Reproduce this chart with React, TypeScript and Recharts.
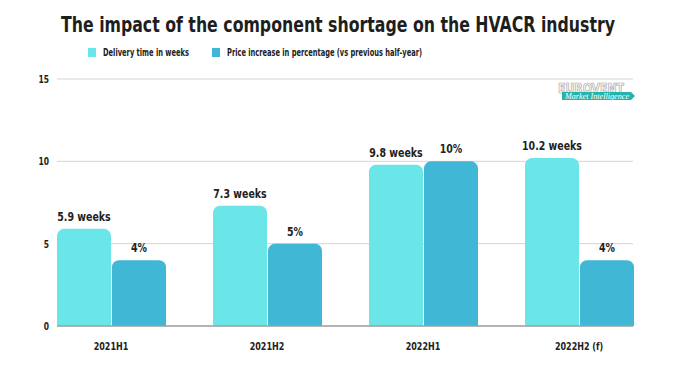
import React from "react";
import { BarChart, Bar, XAxis, YAxis, CartesianGrid, LabelList } from "recharts";

const categories = ["2021H1", "2021H2", "2022H1", "2022H2 (f)"];
const deliveryWeeks = [5.9, 7.3, 9.8, 10.2];
const priceIncrease = [4, 5, 10, 4];
const seriesNames = ["Delivery time in weeks", "Price increase in percentage (vs previous half-year)"];
const yTicks = [0, 5, 10, 15];
const title = "The impact of the component shortage on the HVACR industry";

const FONT = '"DejaVu Sans Condensed", "DejaVu Sans", sans-serif';
const LIGHT = "#6ae5e8";
const DARK = "#41b7d6";
const INK = "#222";

const data = categories.map((name, i) => ({
	name,
	weeks: deliveryWeeks[i],
	price: priceIncrease[i],
}));

// narrow text by squeezing it horizontally around its anchor
const Squeezed = ({ x, y, text, size, sx, anchor = "middle" }: any) => (
	<text
		transform={`translate(${x},${y}) scale(${sx},1)`}
		textAnchor={anchor}
		fontFamily={FONT}
		fontSize={size}
		fontWeight={700}
		fill={INK}
	>
		{text}
	</text>
);

const XTick = ({ x, y, payload }: any) => <Squeezed x={x} y={y + 16} text={payload.value} size={10.5} sx={0.85} />;
const YTick = ({ x, y, payload }: any) => <Squeezed x={x} y={y + 4} text={payload.value} size={10.5} sx={0.8} anchor="end" />;

const weeksLabel = ({ x, y, width, value }: any) => (
	<Squeezed x={x + width / 2} y={y - 8} text={`${value} weeks`} size={12.5} sx={0.84} />
);
const priceLabel = ({ x, y, width, value }: any) => (
	<Squeezed x={x + width / 2} y={y - 8} text={`${value}%`} size={12.5} sx={0.84} />
);

const Overlay: React.FC = () => (
	<svg width={676} height={370} style={{ position: "absolute", left: 0, top: 0, pointerEvents: "none" }}>
		<text x={61} y={32} textLength={554} lengthAdjust="spacingAndGlyphs" fontFamily={FONT} fontSize={22} fontWeight={700} fill="#1e1e1e">
			{title}
		</text>
		<rect x={88} y={48} width={8} height={9} fill={LIGHT} />
		<text x={103} y={56} textLength={86} lengthAdjust="spacingAndGlyphs" fontFamily={FONT} fontSize={11} fontWeight={700} fill={INK}>
			{seriesNames[0]}
		</text>
		<rect x={212} y={48} width={8} height={9} fill={DARK} />
		<text x={227} y={56} textLength={195} lengthAdjust="spacingAndGlyphs" fontFamily={FONT} fontSize={11} fontWeight={700} fill={INK}>
			{seriesNames[1]}
		</text>
		<g>
			<text x={558} y={93} textLength={66} lengthAdjust="spacingAndGlyphs" fontFamily={FONT} fontSize={14} fontWeight={700} fill="#f4f4f4" stroke="#a8a8a8" strokeWidth={0.7}>
				EUROVENT
			</text>
			<polygon points="562,92 631,92 635,96 631,100 562,100" fill="#27b3ad" />
			<text x={565} y={98.5} textLength={64} lengthAdjust="spacingAndGlyphs" fontFamily="Liberation Serif, serif" fontStyle="italic" fontSize={8} fill="#fff">
				Market Intelligence
			</text>
		</g>
	</svg>
);

export default function App() {
	return (
		<div style={{ position: "absolute", left: 0, top: 0, width: 676, height: 370, background: "#fff" }}>
			<BarChart
				width={676}
				height={370}
				data={data}
				margin={{ top: 79, right: 43, bottom: 14, left: 17 }}
				barCategoryGap={24}
				barGap={1}
			>
				<CartesianGrid vertical={false} stroke="#d4d4d4" />
				<XAxis
					dataKey="name"
					padding={{ left: -24, right: -24 }}
					tickLine={false}
					axisLine={{ stroke: "#a0a0a0", strokeWidth: 1.5 }}
					tick={<XTick />}
					height={30}
				/>
				<YAxis domain={[0, 15]} ticks={yTicks} width={40} tickLine={false} axisLine={false} tick={<YTick />} />
				<Bar dataKey="weeks" name={seriesNames[0]} fill={LIGHT} radius={[7, 7, 0, 0]} isAnimationActive={false}>
					<LabelList dataKey="weeks" content={weeksLabel} />
				</Bar>
				<Bar dataKey="price" name={seriesNames[1]} fill={DARK} radius={[7, 7, 0, 0]} isAnimationActive={false}>
					<LabelList dataKey="price" content={priceLabel} />
				</Bar>
			</BarChart>
			<Overlay />
		</div>
	);
}
